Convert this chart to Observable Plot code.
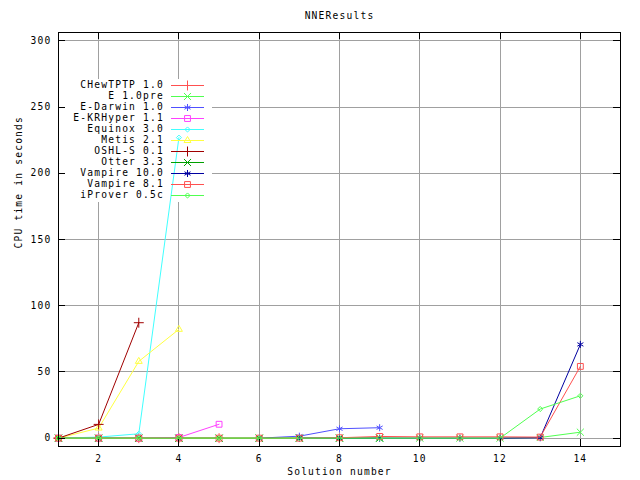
<!DOCTYPE html>
<html><head><meta charset="utf-8">
<script src="https://cdn.jsdelivr.net/npm/d3@7"></script>
<script src="https://cdn.jsdelivr.net/npm/@observablehq/plot@0.6"></script>
<style>body{margin:0;background:#fff} svg{display:block}</style>
</head><body><div id="chart"></div>
<script>
const titleText = "NNEResults";
const xLabel = "Solution number";
const yLabel = "CPU time in seconds";
const xTicks = [2, 4, 6, 8, 10, 12, 14];
const yTicks = [0, 50, 100, 150, 200, 250, 300];

const seriesNames = ["CHewTPTP 1.0", "E 1.0pre", "E-Darwin 1.0", "E-KRHyper 1.1", "Equinox 3.0", "Metis 2.1", "OSHL-S 0.1", "Otter 3.3", "Vampire 10.0", "Vampire 8.1", "iProver 0.5c"];
const seriesColors = ["#ff5050", "#50ff50", "#5050ff", "#ff40ff", "#40ffff", "#ffff40", "#a00000", "#00a000", "#0000a0", "#ff5050", "#50ff50"];
const seriesSymbols = ["plus", "times", "asterisk", "square", "diamond2", "triangle2", "plus", "times", "asterisk", "square", "diamond2"];

const xChewtptp = [1, 2, 3, 4, 5];
const yChewtptp = [0, 0, 0, 0, 0];
const xE = [1, 2, 3, 4, 5, 6, 7, 8, 9, 10, 11, 12, 13, 14];
const yE = [0, 0, 0, 0, 0, 0, 0, 0, 0, 0, 0, 0, 0.5, 4.5];
const xEDarwin = [6, 7, 8, 9];
const yEDarwin = [0, 1.5, 7.1, 7.9];
const xEKRHyper = [1, 2, 3, 4, 5];
const yEKRHyper = [0, 0, 0, 0.5, 10.5];
const xEquinox = [1, 2, 3, 4];
const yEquinox = [0, 0.8, 3.3, 227];
const xMetis = [1, 2, 3, 4];
const yMetis = [0, 7.6, 58, 82.2];
const xOshl = [1, 2, 3];
const yOshl = [0, 10.4, 87.2];
const xOtter = [1, 2, 3, 4, 5, 6, 7, 8, 9];
const yOtter = [0, 0, 0, 0, 0, 0, 0, 0, 0];
const xVampire10 = [7, 8, 9, 10, 11, 12, 13, 14];
const yVampire10 = [0, 0, 0, 0, 0, 0, 0.3, 70.8];
const xVampire81 = [1, 2, 3, 4, 5, 6, 7, 8, 9, 10, 11, 12, 13, 14];
const yVampire81 = [0, 0, 0, 0, 0, 0, 0, 0.3, 1.3, 1, 1, 1, 0.8, 54.2];
const xIProver = [1, 2, 3, 4, 5, 6, 7, 8, 9, 10, 11, 12, 13, 14];
const yIProver = [0, 0, 0, 0, 0, 0, 0, 0, 0, 0, 0, 0, 22, 32];

const seriesX = [xChewtptp, xE, xEDarwin, xEKRHyper, xEquinox, xMetis, xOshl, xOtter, xVampire10, xVampire81, xIProver];
const seriesY = [yChewtptp, yE, yEDarwin, yEKRHyper, yEquinox, yMetis, yOshl, yOtter, yVampire10, yVampire81, yIProver];

const series = seriesNames.map((name, i) => ({
  name, color: seriesColors[i], symbol: seriesSymbols[i],
  rows: seriesX[i].map((x, j) => ({x, y: seriesY[i][j], series: name}))
}));

const FONT = "DejaVu Sans Mono";
const FSIZE = "9.6px";
const LSPACE = "1.2px";
const symbolMap = {
  plus: d3.symbolPlus, times: d3.symbolTimes, asterisk: d3.symbolAsterisk,
  square: d3.symbolSquare, diamond2: d3.symbolDiamond2, triangle2: d3.symbolTriangle2
};
const R = 3.3;
const symR = s => (s === "diamond2" ? 2.3 : R);

// legend geometry (layout, not data)
const LEG = {boxX: 60, boxY: 79, boxW: 152, boxH: 123, textX: 164, lineX1: 171, lineX2: 204, row0: 85, rowH: 11};

function legendBackground() {
  const g = d3.create("svg:g");
  g.append("rect").attr("x", LEG.boxX).attr("y", LEG.boxY).attr("width", LEG.boxW).attr("height", LEG.boxH).attr("fill", "white");
  return g.node();
}

function legendEntries() {
  const g = d3.create("svg:g").attr("font-family", FONT).attr("font-size", FSIZE).attr("letter-spacing", LSPACE);
  series.forEach((s, i) => {
    const yy = LEG.row0 + i * LEG.rowH;
    const r = symR(s.symbol);
    g.append("text").attr("x", LEG.textX).attr("y", yy).attr("dy", "0.35em").attr("text-anchor", "end").attr("fill", "black").text(s.name);
    g.append("line").attr("x1", LEG.lineX1).attr("x2", LEG.lineX2).attr("y1", yy + 0.5).attr("y2", yy + 0.5).attr("stroke", s.color).attr("stroke-width", 1);
    g.append("path").attr("transform", `translate(${(LEG.lineX1 + LEG.lineX2) / 2},${yy + 0.5})`)
      .attr("d", d3.symbol(symbolMap[s.symbol], Math.PI * r * r)()).attr("fill", "none").attr("stroke", s.color).attr("stroke-width", 1);
  });
  return g.node();
}

function tickMarks(index, scales, values, dims) {
  const {x, y} = scales;
  const {width, height, marginLeft, marginRight, marginTop, marginBottom} = dims;
  const L = marginLeft, Rt = width - marginRight, T = marginTop, B = height - marginBottom;
  const g = d3.create("svg:g").attr("stroke", "black").attr("stroke-width", 1).attr("shape-rendering", "crispEdges");
  for (const v of yTicks) {
    const py = Math.round(y(v)) + 0.5;
    g.append("line").attr("x1", L).attr("x2", L + 7).attr("y1", py).attr("y2", py);
    g.append("line").attr("x1", Rt - 7).attr("x2", Rt).attr("y1", py).attr("y2", py);
  }
  for (const v of xTicks) {
    const px = Math.round(x(v)) + 0.5;
    g.append("line").attr("x1", px).attr("x2", px).attr("y1", B).attr("y2", B - 7);
    g.append("line").attr("x1", px).attr("x2", px).attr("y1", T).attr("y2", T + 7);
  }
  return g.node();
}

const dataMarks = series.flatMap(s => [
  Plot.line(s.rows, {x: "x", y: "y", stroke: s.color, strokeWidth: 1}),
  Plot.dot(s.rows, {x: "x", y: "y", stroke: s.color, symbol: () => s.symbol, r: symR(s.symbol), fill: "none", strokeWidth: 1})
]);

const chart = Plot.plot({
  width: 640, height: 480,
  marginLeft: 58, marginRight: 20, marginTop: 32, marginBottom: 34,
  x: {domain: [1, 15], axis: null},
  y: {domain: [-6.3, 306.4], axis: null},
  symbol: {domain: ["plus", "times", "asterisk", "square", "diamond2", "triangle2"], range: ["plus", "times", "asterisk", "square", "diamond2", "triangle2"]},
  style: {fontFamily: FONT, fontSize: FSIZE, letterSpacing: LSPACE, background: "white", color: "black"},
  marks: [
    Plot.ruleX(xTicks, {x: d => d, stroke: "#a0a0a0", strokeWidth: 1, shapeRendering: "crispEdges"}),
    Plot.ruleY(yTicks, {y: d => d, stroke: "#a0a0a0", strokeWidth: 1, shapeRendering: "crispEdges"}),
    legendBackground,
    ...dataMarks,
    legendEntries,
    Plot.frame({stroke: "black", strokeWidth: 1, shapeRendering: "crispEdges"}),
    tickMarks,
    Plot.text(yTicks, {y: d => d, text: d => String(d), frameAnchor: "left", dx: -7, textAnchor: "end", lineAnchor: "middle", fill: "black"}),
    Plot.text(xTicks, {x: d => d, text: d => String(d), frameAnchor: "bottom", dy: 12, lineAnchor: "middle", fill: "black"}),
    Plot.text([xLabel], {text: d => d, frameAnchor: "bottom", dy: 25, lineAnchor: "middle", fill: "black"}),
    Plot.text([yLabel], {text: d => d, frameAnchor: "left", dx: -40, dy: 9, rotate: -90, lineAnchor: "middle", fill: "black"}),
    Plot.text([titleText], {text: d => d, frameAnchor: "top", dy: -17, lineAnchor: "middle", fill: "black"})
  ]
});
document.getElementById("chart").append(chart);
</script>
</body></html>
